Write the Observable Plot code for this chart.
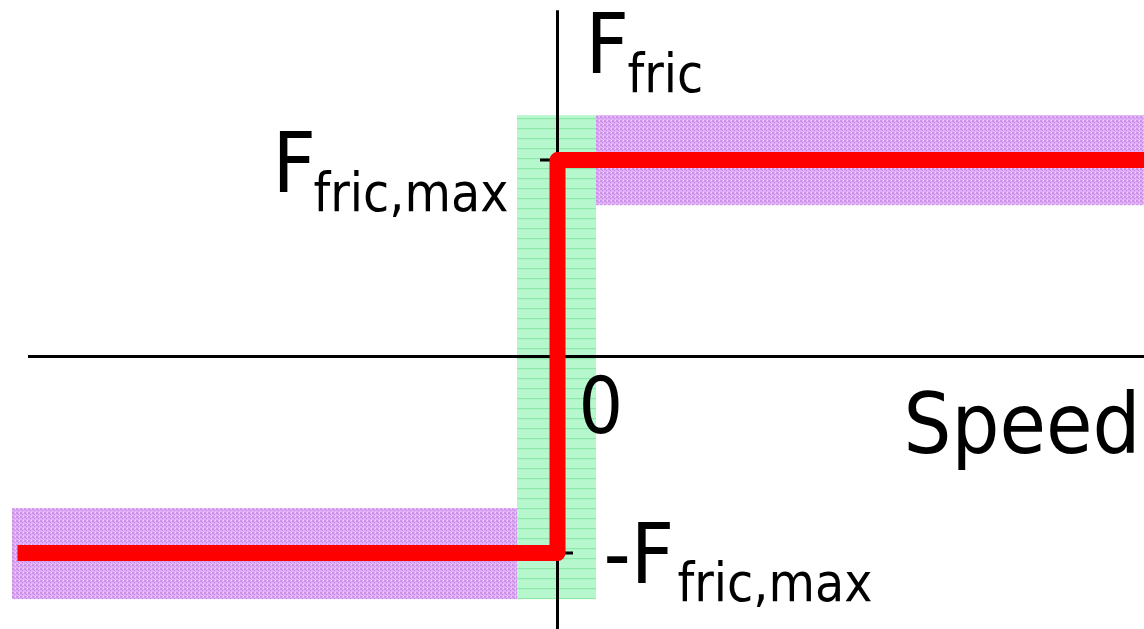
<!DOCTYPE html>
<html>
<head>
<meta charset="utf-8">
<script src="https://cdn.jsdelivr.net/npm/d3@7"></script>
<script src="https://cdn.jsdelivr.net/npm/@observablehq/plot@0.6"></script>
<style>
  html, body { margin: 0; padding: 0; background: #fff; overflow: hidden; }
  #chart svg { display: block; }
</style>
</head>
<body>
<div id="chart"></div>
<script>
// ---- data (abstract units: speed, friction force normalised to F_fric,max = 1) ----
const stepSpeed = [-5.40, 0, 0, 5.87];
const stepForce = [-1, -1, 1, 1];
const tickForces = [1, -1];
// shaded zones: [speed1, speed2, force1, force2]
const stickZone = [-0.40, 0.39, -1.237, 1.226];
const slipZoneUpper = [0.39, 5.87, 0.768, 1.226];
const slipZoneLower = [-5.45, -0.40, -1.237, -0.774];
const axisSpeedExtent = [-5.29, 5.87];
const axisForceExtent = [-1.39, 1.76];
const tickExtent = [-0.17, 0.16];
// labels
const labelMain = ["F", "F", "-F"];
const labelSub = ["fric", "fric,max", "fric,max"];
const labelMainPos = [[0.28, 1.445], [-2.85, 0.835], [0.46, -1.150]];
const labelSubPos = [[0.70, 1.344], [-2.44, 0.743], [1.20, -1.242]];
const zeroLabel = "0";
const speedLabel = "Speed";

const FONT = "'DejaVu Sans Condensed', 'DejaVu Sans', Tahoma, sans-serif";

const zones = [
  {z: stickZone, fill: "url(#stickPat)"},
  {z: slipZoneUpper, fill: "url(#slipPat)"},
  {z: slipZoneLower, fill: "url(#slipPat)"}
];
const step = stepSpeed.map((s, i) => ({speed: s, force: stepForce[i]}));
const mains = labelMain.map((t, i) => ({t, x: labelMainPos[i][0], y: labelMainPos[i][1]}));
const subs = labelSub.map((t, i) => ({t, x: labelSubPos[i][0], y: labelSubPos[i][1]}));

const chart = Plot.plot({
  width: 1144,
  height: 629,
  margin: 0,
  x: {domain: [-5.57, 5.87], axis: null},
  y: {domain: [-1.389, 1.812], axis: null},
  style: {fontFamily: FONT, background: "white"},
  marks: [
    Plot.rect(zones, {x1: d => d.z[0], x2: d => d.z[1], y1: d => d.z[2], y2: d => d.z[3], fill: d => d.fill}),
    Plot.ruleX([0], {y1: axisForceExtent[0], y2: axisForceExtent[1], stroke: "black", strokeWidth: 3}),
    Plot.ruleY([0], {x1: axisSpeedExtent[0], x2: axisSpeedExtent[1], stroke: "black", strokeWidth: 3}),
    Plot.ruleY(tickForces, {x1: tickExtent[0], x2: tickExtent[1], stroke: "black", strokeWidth: 3}),
    Plot.line(step, {x: "speed", y: "force", stroke: "#ff0000", strokeWidth: 16, strokeLinejoin: "round", strokeLinecap: "butt"}),
    Plot.text(mains, {x: "x", y: "y", text: "t", textAnchor: "start", lineAnchor: "bottom", fontSize: 84, fill: "black"}),
    Plot.text(subs, {x: "x", y: "y", text: "t", textAnchor: "start", lineAnchor: "bottom", fontSize: 53, fill: "black"}),
    Plot.text([zeroLabel], {x: 0.21, y: -0.387, text: d => d, textAnchor: "start", lineAnchor: "bottom", fontSize: 78, fill: "black"}),
    Plot.text([speedLabel], {x: 5.83, y: -0.489, text: d => d, textAnchor: "end", lineAnchor: "bottom", fontSize: 84, fill: "black"})
  ]
});

// fill patterns for the shaded zones
const ns = "http://www.w3.org/2000/svg";
const defs = document.createElementNS(ns, "defs");
defs.innerHTML = `
  <pattern id="stickPat" patternUnits="userSpaceOnUse" width="10" height="10">
    <rect width="10" height="10" fill="#b6f7cd"/>
    <rect y="8" width="10" height="1.2" fill="#8de8aa"/>
  </pattern>
  <pattern id="slipPat" patternUnits="userSpaceOnUse" width="4" height="4">
    <rect width="4" height="4" fill="#dfb0f3"/>
    <rect x="0" y="0" width="2" height="2" fill="#cc92ea"/>
    <rect x="2" y="2" width="1" height="1" fill="#c27fe4"/>
    <rect x="3" y="0" width="1" height="1" fill="#ecd2f8"/>
  </pattern>`;
chart.insertBefore(defs, chart.firstChild);
document.getElementById("chart").appendChild(chart);
</script>
</body>
</html>
